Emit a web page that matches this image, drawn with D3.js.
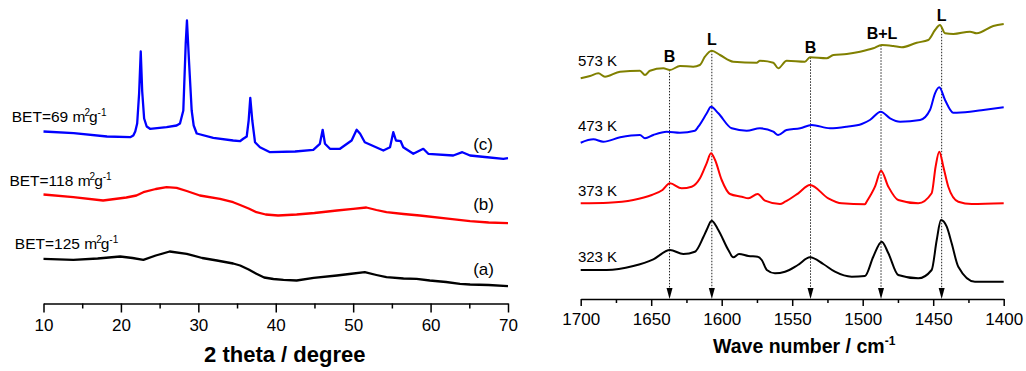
<!DOCTYPE html>
<html>
<head>
<meta charset="utf-8">
<script src="https://cdn.jsdelivr.net/npm/d3@7"></script>
<style>
  body { margin: 0; background: #fff; }
  svg { font-family: Arial, "Liberation Sans", sans-serif; }
</style>
</head>
<body>
<svg width="1026" height="371"></svg>
<script>
// XRD patterns, [2 theta, intensity a.u.]
const xrdA = [[10,44.7],[13.85,43.7],[17,45],[19.9,47],[21.5,45.5],[22.9,43.7],[24.5,48],[26.3,52],[28.5,49.7],[30.5,45.5],[32.4,43],[34.5,40],[35.4,38],[36.5,34],[37.5,29.7],[38.5,26],[39.7,24.5],[41,23.7],[42.7,23],[44.9,25.7],[47.9,28],[49.5,29.5],[51.5,31.3],[53,28.5],[54.3,26.3],[56.5,25],[58.2,24.7],[59.9,23],[62,21.5],[63.8,19.7],[65.1,19],[67.5,18.5],[70,17.3]];
const xrdB = [[10,109],[13.85,106.3],[17.7,103],[20.7,106],[22,108],[22.9,111.3],[24.5,114.5],[25.9,116.3],[27.2,115.7],[28.5,112.5],[30.2,108],[32.8,104.7],[34.5,101.3],[35.4,98.5],[36.5,95],[37.5,91.3],[38.7,89],[40.3,88],[42.7,89],[45,90.5],[47.9,93],[50,94.7],[51.7,96],[53,93.5],[54.3,91.3],[56.5,89.5],[58.6,88],[62.5,84.7],[65.1,82.3],[67.5,81],[70,80.3]];
const xrdC = [[10,172],[13.9,170.3],[18.2,167],[21.2,166.3],[21.6,168],[21.85,172],[22.1,180],[22.35,210],[22.56,252],[22.75,212],[23,185],[23.33,177],[23.76,174.7],[25.9,176.3],[27.2,178],[27.63,180],[28.06,193],[28.37,260],[28.53,283],[28.79,243],[29.14,193],[29.4,178],[29.79,170],[31.93,165.7],[34.5,163],[35.38,162.3],[35.8,164.7],[36.25,167],[36.5,183],[36.71,205.7],[36.97,183],[37.32,161.3],[37.96,156.3],[39.26,151.3],[42.5,152],[44.85,153.7],[45.7,159.7],[46.06,173.7],[46.36,159.7],[47,154.7],[48.3,154.7],[49.8,163],[50.45,173.7],[50.9,169.7],[51.5,161.3],[53.9,153],[54.76,156.3],[55.18,171.3],[55.53,163],[56.14,162.3],[56.47,156.3],[57.77,149.7],[59.06,154.7],[59.7,149.7],[62.93,148],[64.1,151.3],[65.1,148],[67,146.5],[69.4,144.7],[70,145.3]];
const xrdColors = ["#000000", "#ff0000", "#0000ff"];
const xrdTags = ["(a)", "(b)", "(c)"];
const xrdTagPos = [[65.5, 29], [65.5, 94], [65.5, 154]];
const betLabels = [["BET=125 m", "2", "g", "-1"], ["BET=118 m", "2", "g", "-1"], ["BET=69 m", "2", "g", "-1"]];
const betPos = [[6.3, 55], [5.6, 118], [5.9, 182]];
const xrdTicks = [10, 20, 30, 40, 50, 60, 70];
const xrdMinor = [15, 25, 35, 45, 55, 65];

// FTIR pyridine spectra, [wave number, absorbance a.u.]
const ftir323 = [[1700,29],[1681.6,29],[1662.7,33],[1648.5,39.7],[1636.7,49],[1627.2,45],[1619,47.3],[1613,62],[1610.7,69],[1607.1,78.3],[1602.4,69],[1595.3,49],[1591.8,41.7],[1587.7,45],[1581.1,43],[1574.5,42.3],[1571.6,39],[1568,29],[1562.2,25.7],[1555.1,27.3],[1546,34],[1537.4,41.7],[1528,35],[1519.7,27.3],[1507.8,22.3],[1498.4,23],[1492.5,42.3],[1486.5,57.3],[1481.8,45.7],[1474.8,24],[1460.6,20.7],[1451.1,29],[1447.5,59],[1444.5,79],[1440.4,72.3],[1436.9,55.7],[1432.2,32.3],[1420.4,17.3],[1400,17.3]];
const ftir373 = [[1700,95.7],[1680.4,96.3],[1662.7,99],[1649.6,104],[1642,109],[1636.7,115.7],[1628.4,110.7],[1621.3,112.3],[1615.4,120.7],[1610.7,135.7],[1607.6,145.7],[1604.7,139],[1600,119],[1594.1,105],[1585.8,102.3],[1581.1,100.7],[1574.5,105],[1569.3,98.3],[1558.7,95],[1555,97.3],[1545.7,105.7],[1537.4,114],[1524.4,100.7],[1514.9,95.7],[1498.4,94.7],[1497.2,97.3],[1491.3,112.3],[1487,128.3],[1481.8,112.3],[1474.8,99],[1460.6,95.7],[1451.1,105.7],[1448.3,132.3],[1445.7,147.3],[1442.8,132.3],[1439.3,112.3],[1432.2,97.3],[1422.7,95],[1400,95.7]];
const ftir473 = [[1700,156.3],[1691,159.7],[1684,157.3],[1672,161.7],[1658,164],[1654.4,160.7],[1648.5,164],[1639,167.3],[1629.6,166.3],[1619,168.3],[1616.6,172.3],[1610.6,185.7],[1607.6,192.3],[1602.4,185.7],[1592.9,170.7],[1582.3,168.3],[1572.9,170.7],[1563.4,167.3],[1560,164],[1554,169],[1544.3,170.7],[1536.2,174],[1523.2,170.7],[1511.3,172.3],[1500.7,175],[1494.9,179],[1487.2,187.3],[1480.6,180.7],[1473.5,177.3],[1459.3,179],[1452.3,189],[1448.7,205.7],[1445.7,211.7],[1441.6,199],[1435.8,186.3],[1423.9,187.3],[1414.5,189],[1400,191.7]];
const ftir573 = [[1700,220.7],[1693.4,223],[1687.5,225.7],[1682.8,222.3],[1672.1,227.3],[1658,228.3],[1654.4,224],[1650.9,228.3],[1641.4,230.7],[1636.7,229],[1629.6,233],[1620.2,232.3],[1615.5,234],[1611.9,242.3],[1607.1,248.3],[1601.2,244],[1591.8,237.3],[1575.2,236.3],[1572.9,238.3],[1563.4,236.3],[1559.9,230.7],[1553.9,238.3],[1541,237.3],[1537.4,241.7],[1525.6,240.7],[1520.8,244],[1511.3,245],[1501.9,247.3],[1492.5,250.7],[1486.5,254],[1478.3,253],[1472.3,251.7],[1461.7,256.3],[1453.5,259],[1448.7,269],[1445.2,274],[1441.6,265.7],[1435.7,265],[1423.9,267.3],[1419.1,265.7],[1407.4,273],[1400,275]];
const ftirColors = ["#000000", "#ff0000", "#0000ff", "#808000"];
const tempLabels = ["323 K", "373 K", "473 K", "573 K"];
const tempPos = [[1702, 37.5], [1702, 103], [1702, 168.5], [1702, 233.5]];
const bandWn = [1637, 1607, 1537, 1487, 1444];
const bandLabels = ["B", "L", "B", "B+L", "L"];
const bandLabelY = [237.5, 254, 246.5, 259.7, 278.3];
const ftirTicks = [1700, 1650, 1600, 1550, 1500, 1450, 1400];
const ftirMinor = [1675, 1625, 1575, 1525, 1475, 1425];

const svg = d3.select("svg");

// ---------- left panel: XRD ----------
const xL = d3.scaleLinear().domain([10, 70]).range([43.5, 508]);
const yL = d3.scaleLinear().domain([0, 300]).range([303.5, 3.5]);

const lineL = d3.line().x(d => xL(d[0])).y(d => yL(d[1]));

[xrdA, xrdB, xrdC].forEach((s, i) => {
  svg.append("path")
    .datum(s)
    .attr("fill", "none")
    .attr("stroke", xrdColors[i])
    .attr("stroke-width", 2.3)
    .attr("stroke-linejoin", "round")
    .attr("d", lineL);

  svg.append("text")
    .attr("x", xL(xrdTagPos[i][0]))
    .attr("y", yL(xrdTagPos[i][1]))
    .attr("font-size", 17)
    .text(xrdTags[i]);

  const t = svg.append("text")
    .attr("x", xL(betPos[i][0]))
    .attr("y", yL(betPos[i][1]))
    .attr("font-size", 15.5);
  t.append("tspan").text(betLabels[i][0]);
  t.append("tspan").attr("dy", -6).attr("dx", -1).attr("font-size", 10).text(betLabels[i][1]);
  t.append("tspan").attr("dy", 6).attr("dx", -1).text(betLabels[i][2]);
  t.append("tspan").attr("dy", -6).attr("font-size", 10).text(betLabels[i][3]);
});

function drawAxis(x, y0, ticks, minor, major, small, pad) {
  const g = svg.append("g").attr("transform", `translate(0,${y0})`);
  g.call(d3.axisBottom(x).tickValues(ticks).tickSize(major).tickSizeOuter(0).tickPadding(pad).tickFormat(d3.format("d")));
  g.selectAll(".tick text").attr("font-size", 17).attr("fill", "#000");
  g.selectAll(".tick line, .domain").attr("stroke", "#000").attr("stroke-width", 1.5);
  g.append("g").call(d3.axisBottom(x).tickValues(minor).tickSize(small).tickFormat(""))
    .call(a => a.select(".domain").remove())
    .selectAll("line").attr("stroke", "#000").attr("stroke-width", 1.5);
  return g;
}

drawAxis(xL, yL(0), xrdTicks, xrdMinor, 9, 5, 6);

svg.append("text")
  .attr("x", (xL.range()[0] + xL.range()[1]) / 2 + 9)
  .attr("y", yL(0) + 58)
  .attr("text-anchor", "middle")
  .attr("font-size", 22)
  .attr("font-weight", "bold")
  .text("2 theta / degree");

// ---------- right panel: FTIR ----------
const xR = d3.scaleLinear().domain([1700, 1400]).range([580.7, 1003.7]);
const yR = d3.scaleLinear().domain([0, 300]).range([299, -1]);

const lineR = d3.line().x(d => xR(d[0])).y(d => yR(d[1])).curve(d3.curveMonotoneX);

// dotted band guides with arrowheads
const bis = d3.bisector(d => -d[0]).left;
function olivAt(wn) {
  const i = bis(ftir573, -wn);
  const a = ftir573[i - 1], b = ftir573[i];
  const t = (wn - a[0]) / (b[0] - a[0]);
  return a[1] + t * (b[1] - a[1]);
}

bandWn.forEach((wn, i) => {
  const x = xR(wn);
  svg.append("line")
    .attr("x1", x).attr("x2", x)
    .attr("y1", yR(olivAt(wn)))
    .attr("y2", yR(0) - 10)
    .attr("stroke", "#222")
    .attr("stroke-width", 1)
    .attr("stroke-dasharray", "1.5,1.5");
  svg.append("path")
    .attr("d", `M${x - 3},${yR(0) - 11}L${x + 3},${yR(0) - 11}L${x},${yR(0)}Z`)
    .attr("fill", "#000");
  svg.append("text")
    .attr("x", x + (bandLabels[i].length > 1 ? 1 : 0))
    .attr("y", yR(bandLabelY[i]))
    .attr("text-anchor", "middle")
    .attr("font-size", 16)
    .attr("font-weight", "bold")
    .text(bandLabels[i]);
});

[ftir323, ftir373, ftir473, ftir573].forEach((s, i) => {
  svg.append("path")
    .datum(s)
    .attr("fill", "none")
    .attr("stroke", ftirColors[i])
    .attr("stroke-width", 2)
    .attr("stroke-linejoin", "round")
    .attr("d", lineR);

  svg.append("text")
    .attr("x", xR(tempPos[i][0]))
    .attr("y", yR(tempPos[i][1]))
    .attr("font-size", 15)
    .text(tempLabels[i]);
});

drawAxis(xR, yR(0), ftirTicks, ftirMinor, 7, 4, 7);

const tt = svg.append("text")
  .attr("x", (xR.range()[0] + xR.range()[1]) / 2 + 12)
  .attr("y", yR(0) + 54)
  .attr("text-anchor", "middle")
  .attr("font-size", 19.5)
  .attr("font-weight", "bold");
tt.append("tspan").text("Wave number / cm");
tt.append("tspan").attr("dy", -8).attr("font-size", 12).text("-1");
</script>
</body>
</html>
